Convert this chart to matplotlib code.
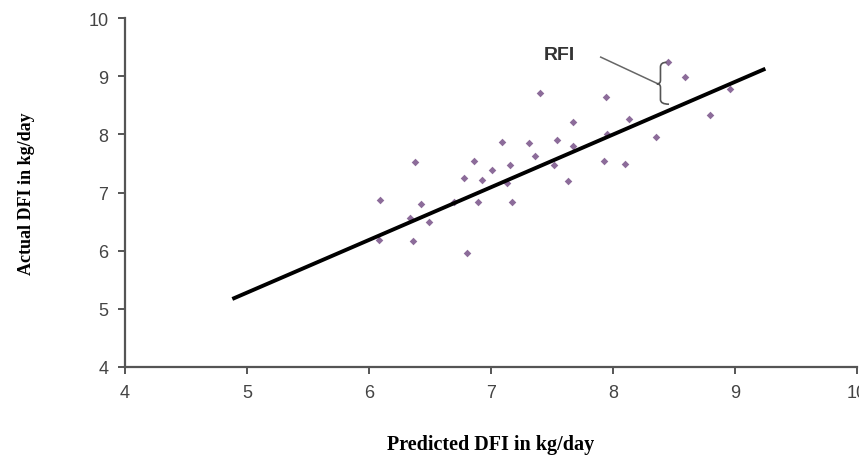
import matplotlib
matplotlib.use("Agg")
import matplotlib.pyplot as plt
from matplotlib.path import Path
from matplotlib.patches import PathPatch

# observed animals: predicted vs actual daily feed intake (kg/day)
predicted = [6.38, 6.86, 6.78, 6.09, 6.43, 6.70, 6.89, 6.34, 6.49, 6.08, 6.36, 6.80,
             8.45, 8.59, 8.96, 7.40, 7.94, 8.80, 7.67, 8.13, 7.95, 8.35, 7.09, 7.31,
             7.54, 7.67, 7.36, 7.16, 7.52, 7.93, 8.10, 7.01, 6.93, 7.13, 7.63, 7.17]
actual = [7.52, 7.54, 7.25, 6.88, 6.81, 6.84, 6.84, 6.56, 6.49, 6.19, 6.16, 5.96,
          9.24, 8.98, 8.79, 8.71, 8.64, 8.34, 8.21, 8.27, 8.01, 7.95, 7.87, 7.85,
          7.90, 7.80, 7.63, 7.48, 7.48, 7.55, 7.50, 7.38, 7.21, 7.16, 7.20, 6.84]

# fitted regression line end points
line_x = [4.88, 9.25]
line_y = [5.17, 9.13]

x_ticks = [4, 5, 6, 7, 8, 9, 10]
y_ticks = [4, 5, 6, 7, 8, 9, 10]

fig = plt.figure(figsize=(8.59, 4.56), dpi=100)
ax = fig.add_axes([0.1455, 0.193, 0.852, 0.765])

ax.plot(line_x, line_y, color="black", linewidth=2.8, solid_capstyle="butt", zorder=3)
ax.scatter(predicted, actual, marker="D", s=15, color="#8c6c9a", linewidths=0, zorder=2)

ax.set_xlim(4, 10)
ax.set_ylim(4, 10)
ax.set_xticks(x_ticks)
ax.set_yticks(y_ticks)
for s in ["top", "right"]:
    ax.spines[s].set_visible(False)
for s in ["left", "bottom"]:
    ax.spines[s].set_color("#555555")
    ax.spines[s].set_linewidth(1.6)
ax.tick_params(direction="out", length=5, width=1.4, color="#555555",
               labelsize=13, labelcolor="#444444", pad=7)
for lab in ax.get_xticklabels() + ax.get_yticklabels():
    lab.set_fontfamily("Liberation Sans")

ax.set_xlabel("Predicted DFI in kg/day", fontfamily="Liberation Serif",
              fontweight="bold", fontsize=14.5, labelpad=24)
ax.set_ylabel("Actual DFI in kg/day", fontfamily="Liberation Serif",
              fontweight="bold", fontsize=13, labelpad=38)

# RFI annotation with brace
ax.text(7.56, 9.38, "RFI", fontfamily="Liberation Sans", fontweight="bold",
        fontsize=14, color="#333333", ha="center", va="center")
ax.plot([7.90, 8.37], [9.33, 8.87], color="#666666", linewidth=1.1)
bx, top, mid, bot = 8.39, 9.24, 8.87, 8.52
verts = [(8.44, top), (bx, top), (bx, top - 0.08),
         (bx, mid + 0.06),
         (bx, mid), (bx - 0.03, mid),
         (bx, mid), (bx, mid - 0.06),
         (bx, bot + 0.08),
         (bx, bot), (8.46, bot)]
codes = [Path.MOVETO, Path.CURVE3, Path.CURVE3,
         Path.LINETO,
         Path.CURVE3, Path.CURVE3,
         Path.CURVE3, Path.CURVE3,
         Path.LINETO,
         Path.CURVE3, Path.CURVE3]
ax.add_patch(PathPatch(Path(verts, codes), facecolor="none", edgecolor="#555555",
                       linewidth=1.2, zorder=4))

fig.savefig("out.png", dpi=100)
